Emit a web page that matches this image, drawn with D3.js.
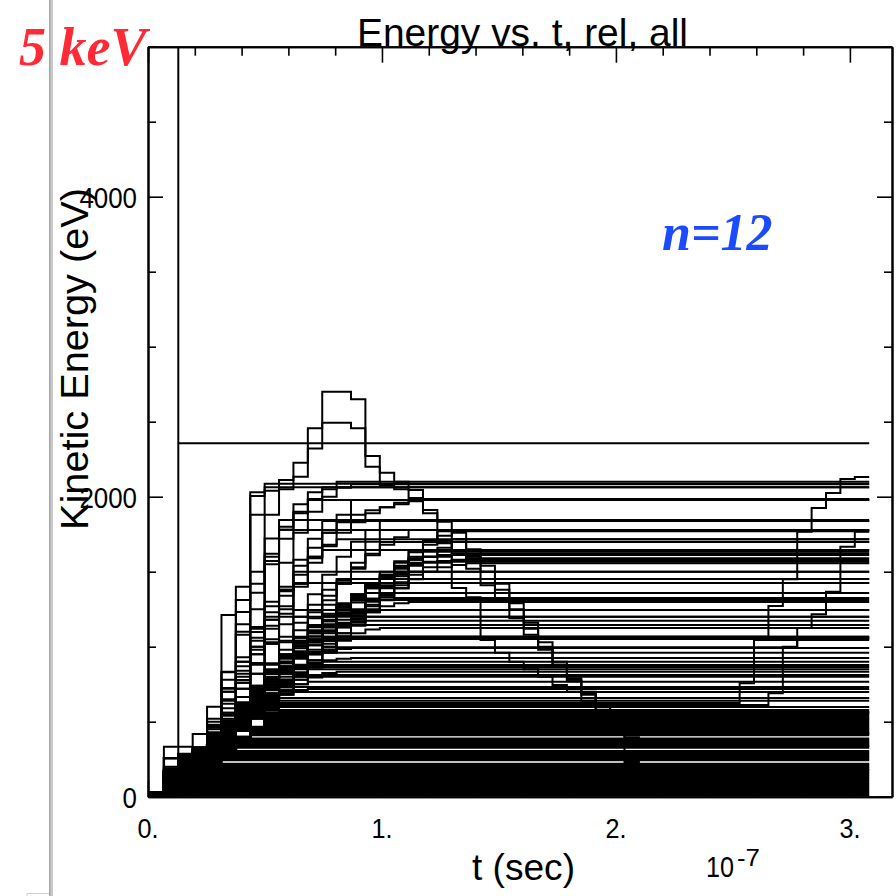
<!DOCTYPE html>
<html><head><meta charset="utf-8">
<script src="https://cdn.jsdelivr.net/npm/d3@7"></script>
<style>html,body{margin:0;padding:0;background:#fff;} svg{display:block;}</style>
</head><body>
<svg id="c" width="896" height="896"></svg>
<script>
// ---- sample-interval boundaries (units of 1e-7 s) ----
const stepTimes = [0, 0.0679, 0.1295, 0.1910, 0.2525, 0.3140, 0.3755, 0.4371, 0.4986, 0.5601,
  0.6216, 0.6832, 0.7447, 0.8062, 0.8677, 0.9292, 0.9908, 1.0523, 1.1138, 1.1753,
  1.2368, 1.2984, 1.3599, 1.4214, 1.4829, 1.5445, 1.6060, 1.6675, 1.7290, 1.7905,
  1.8521, 1.9136, 1.9751, 2.0366, 2.0982, 2.1597, 2.2212, 2.2827, 2.3442, 2.4058,
  2.4673, 2.5288, 2.5903, 2.6518, 2.7134, 2.7749, 2.8364, 2.8979, 2.9594, 3.0210, 3.0825];

// ---- energy (eV) per interval; last value = energy kept to end of run ----
const lowTraces = [
  [4],[6,14],[8,25],[10,36],[12,30,47],[5,40,58],[14,45,69],[16,52,80],[18,60,91],[20,66,102],
  [22,72,96,113],[24,80,106,124],[26,88,118,135],[28,95,125,146],[30,102,134,157],[9,110,142,168],
  [11,120,150,165,179],[13,128,160,176,190],[15,135,170,188,200],[17,142,180,196,210],[19,150,190,205,219],
  [21,160,200,216,230,244],[23,173,212,226,240,254],[25,160,222,238,250,264],[27,173,232,248,262,274],
  [29,160,242,258,272,284],[7,150,252,268,282,290,294],[9,140,262,280,292,300,304],
  [11,130,270,290,305,315,328],[13,256,280,300,316,327,338],[15,120,285,307,326,338,348],
  [17,110,250,296,334,348,358],[19,100,240,290,340,357,368],[21,96,230,285,345,365,377],
  [23,90,220,280,340,367,386],[25,85,210,275,330,360,391,411],[27,80,200,270,325,360,398,421],
  [29,75,190,265,320,355,398,431],[6,70,180,260,315,350,391,441],[8,66,170,255,310,345,385,452],
  [10,62,160,250,305,340,380,463],[12,58,150,245,300,340,380,440,474],[14,54,140,240,295,335,378,445,485],
  [16,50,130,235,290,330,376,450,496],[18,46,120,230,285,325,374,455,507],[20,42,110,225,280,320,372,458,518],
  [22,38,100,220,275,315,370,460,529],[24,34,95,215,270,310,365,462,540],[26,30,90,210,265,305,360,463,551],
  [28,28,85,205,260,300,355,465,561]
];
const midTraces = [
  [10,70,150,240,320,400,500,610,730,850,960,1070,1170,1260,1340,1410,1460,1500],
  [12,60,140,230,330,430,540,660,780,900,1010,1110,1200,1280,1350,1410,1451],
  [14,55,130,220,300,380,460,550,650,750,850,950,1040,1130,1210,1280,1340,1390,1424],
  [16,80,170,260,360,470,580,700,820,930,1040,1140,1220,1290,1330,1358],
  [18,90,180,270,350,430,520,620,720,820,920,1010,1100,1180,1250,1300,1315,1325],
  [20,100,190,280,370,470,590,710,830,940,1040,1130,1210,1270,1295,1311],
  [22,65,140,220,300,380,460,550,640,730,820,910,1000,1090,1170,1230,1270,1290,1298],
  [24,110,200,290,380,480,600,720,830,930,1020,1100,1170,1210,1230,1240,1245],
  [26,75,160,250,330,420,520,630,740,850,950,1040,1110,1160,1190,1200],
  [28,120,210,300,390,500,620,740,850,950,1030,1090,1130,1155,1165,1173],
  [9,85,170,260,340,430,540,650,760,860,950,1030,1090,1130,1145],
  [11,50,120,200,280,360,440,530,620,710,800,890,970,1040,1090,1115,1125],
  [13,95,180,270,360,460,570,680,790,890,970,1030,1060,1067],
  [15,130,220,310,400,500,610,720,820,900,960,1010,1040,1050,1058],
  [17,60,130,210,290,370,460,560,660,760,860,950,1020,1051],
  [19,105,190,280,370,470,580,690,790,870,930,965,980,985,991],
  [21,140,230,320,410,510,620,730,830,900,940,955,960],
  [23,70,150,230,310,390,470,560,650,740,820,880,910,920,925],
  [25,115,200,290,380,480,590,700,790,850,880,895,900],
  [27,80,160,240,320,400,490,580,670,760,830,870,878],
  [29,150,240,330,420,520,630,730,800,840,855,860,865],
  [7,90,170,250,330,410,500,590,680,760,820,850],
  [9,55,125,200,280,360,440,520,600,680,750,800,825,833],
  [11,125,210,300,390,490,600,700,770,800,811],
  [13,100,180,260,340,420,510,600,680,740,780,795,800],
  [15,65,140,220,300,380,460,550,640,710,750,767],
  [17,135,220,310,400,500,610,680,715,731],
  [19,110,190,270,350,430,520,610,670,700,712,718],
  [21,75,150,230,310,390,480,570,640,680,698],
  [23,145,230,320,410,500,590,640,658],
  [25,120,200,280,360,440,530,600,630,640],
  [27,85,160,240,320,400,480,550,585,598],
  [29,155,240,330,420,500,550,570,578],
  [6,95,175,255,335,415,490,540,560,567]
];
const ridgeTraces = [
  [8,60,140,230,310,390,480,580,680,780,870,960,1050,1140,1230,1310,1390,1470,1540,1600,1660,1716],
  [10,65,150,240,320,400,500,610,720,830,930,1030,1130,1220,1310,1400,1480,1560,1630,1698],
  [12,75,160,250,330,410,510,600,690,780,870,960,1050,1140,1230,1320,1400,1480,1550,1600,1645],
  [14,85,170,260,340,420,530,640,740,840,940,1040,1130,1220,1310,1390,1470,1540,1590,1633],
  [16,55,130,220,300,380,460,550,640,730,820,910,1000,1090,1180,1270,1350,1430,1500,1560,1600,1622],
  [18,95,180,270,350,430,540,650,750,850,950,1050,1140,1230,1320,1400,1470,1530,1580,1600,1611],
  [20,50,120,210,290,370,450,530,620,710,800,890,980,1070,1160,1250,1330,1410,1480,1530,1560,1580,1590],
  [22,105,190,275,355,440,555,665,770,870,960,1050,1140,1225,1310,1390,1460,1520,1550,1565,1572,1578],
  [24,115,200,280,360,450,570,680,790,890,990,1090,1180,1270,1350,1420,1480,1530,1560,1567],
  [26,45,110,200,280,360,440,520,600,690,780,870,960,1050,1140,1230,1310,1390,1450,1500,1530,1545,1556]
];
const highTraces = [
  [15,333,333,418,600,1211,1400,2029,2087],
  [10,256,285,307,471,724,1231,2004,2063],
  [18,120,240,300,360,545,840,1131,1571,1780,1889,1984,2050,2100],
  [16,100,230,290,390,485,778,1098,1722,1844],
  [14,90,200,280,360,440,665,891,1180,1380,1540,1660,1760,1830,1880,1910,1930,1950,1978],
  [12,80,190,270,350,425,611,820,1050,1250,1420,1560,1670,1760,1830,1890,1930,1960,1970,1985],
  [20,110,215,295,380,465,580,700,840,980,1110,1230,1340,1440,1530,1610,1680,1730,1778],
  [22,70,160,250,330,410,500,600,710,820,930,1040,1150,1250,1340,1420,1500,1570,1640,1710,1770]
];
const fastTraces = [
  [15,120,230,300,380,500,720,1000,1300,1560,1760,1900,2000,2060,2083],
  [13,150,260,310,420,620,900,1250,1550,1800,1950,2030,2063],
  [11,110,220,290,370,470,620,820,1020,1220,1420,1600,1760,1880,1978],
  [17,130,240,300,400,560,760,980,1200,1400,1580,1720,1838],
  [19,95,200,280,350,430,560,720,880,1040,1200,1350,1480,1600,1700,1778],
  [21,140,250,305,410,590,800,1000,1180,1340,1480,1600,1680,1716],
  [23,85,190,270,340,410,510,640,780,920,1060,1190,1310,1420,1520,1620,1698],
  [25,160,265,310,430,650,870,1060,1230,1380,1500,1590,1645],
  [27,145,255,300,400,560,760,950,1120,1270,1400,1500],
  [8,105,210,285,355,440,580,740,890,1030,1160,1280,1380,1451],
  [10,170,270,315,460,700,930,1120,1270,1370,1424],
  [12,125,235,300,390,540,720,880,1020,1150,1245],
  [14,180,275,320,480,720,900,1040,1140,1200],
  [16,90,195,275,345,420,540,680,820,950,1060,1145],
  [18,165,268,312,450,640,820,950,1030,1067],
  [20,200,280,320,520,830,1150,1420,1620,1720,1778],
  [22,190,275,318,500,780,1080,1360,1600,1780,1900,1978],
  [24,80,180,260,330,400,480,590,720,860,1000,1140,1280,1420,1560,1700,1838]
];
// ---- change points [interval, energy eV] ----
const peakTraces = [
  [[0,12],[1,130],[2,250],[3,300],[4,420],[5,833],[6,1311],[7,1880],[8,2040],[9,2111],[10,2227],[11,2456],[12,2700],[14,2649],[15,2271],[16,2160],[17,2100],[18,2044],[19,1911],[20,1711],[21,1391],[22,1329],[23,1044],[24,960],[25,900],[26,850],[27,800],[28,744],[29,700],[30,640],[31,556],[32,420],[33,231],[34,180]],
  [[0,14],[1,140],[2,260],[3,300],[4,400],[5,700],[6,1100],[7,1500],[8,1880],[9,2050],[10,2133],[11,2322],[12,2493],[14,2456],[15,2200],[16,2078],[17,2050],[18,1991],[19,1890],[20,1833],[21,1716],[22,1600],[23,1500],[24,1380],[25,1250],[26,1120],[27,1000],[28,880],[29,770],[30,690],[31,600],[32,500],[33,396],[34,340]],
  [[0,16],[1,80],[2,170],[3,250],[4,330],[5,410],[6,500],[7,590],[8,680],[9,770],[10,860],[11,950],[12,1040],[13,1130],[14,1220],[15,1310],[16,1400],[17,1490],[18,1580],[19,1680],[20,1740],[21,1760],[22,1650],[23,1540],[24,1420],[25,1290],[26,1160],[27,1030],[28,900],[29,780],[30,680],[31,580],[32,480],[33,420]],
  [[0,18],[1,90],[2,180],[3,260],[4,340],[5,420],[6,510],[7,600],[8,690],[9,780],[10,870],[11,960],[12,1050],[13,1140],[14,1230],[15,1320],[16,1410],[17,1500],[18,1600],[19,1700],[20,1690],[21,1620],[22,1520],[23,1410],[24,1300],[25,1190],[26,1080],[27,980],[28,880],[29,790],[30,700],[31,620],[32,560]]
];
const lateTraces = [
  [[0,10],[1,90],[2,180],[3,270],[4,360],[5,450],[6,550],[7,650],[8,750],[9,850],[10,950],[11,1030],[12,1067],[43,1271],[44,1450],[45,1767],[46,1924],[47,2024],[48,2118],[49,2131]],
  [[0,12],[1,100],[2,190],[3,280],[4,370],[5,470],[6,570],[7,670],[8,770],[9,860],[10,930],[11,980],[12,997],[45,1125],[46,1217],[47,1367],[48,1667],[49,1767]],
  [[0,14],[1,70],[2,150],[3,230],[4,310],[5,390],[6,470],[7,550],[8,600],[9,624],[41,756],[42,1044]],
  [[0,16],[1,120],[2,200],[3,280],[4,360],[5,440],[6,520],[7,580],[8,611],[43,689],[44,1000],[45,1060]]
];
const spikeTrace = [[0,0],[2,6000],[2,2356]];

// ---- axis ticks / labels ----
const xMajor = [0, 1, 2, 3];
const xMinor = [0.2, 0.4, 0.6, 0.8, 1.2, 1.4, 1.6, 1.8, 2.2, 2.4, 2.6, 2.8];
const xTickLabels = ["0.", "1.", "2.", "3."];
const yMajor = [0, 2000, 4000];
const yMinor = [500, 1000, 1500, 2500, 3000, 3500, 4500, 5000];
const yTickLabels = ["0", "2000", "4000"];

const svg = d3.select("#c");
const X0 = 148, X1 = 892, Y0 = 796.7, Y1 = 46.7;
const x = d3.scaleLinear().domain([0, 3.18]).range([X0, X1]);
const y = d3.scaleLinear().domain([0, 5000]).range([Y0, Y1]);

// window border on the left
svg.append("rect").attr("x", 49).attr("y", 0).attr("width", 4).attr("height", 896).attr("fill", "#c9c9c9");
svg.append("rect").attr("x", 49).attr("y", 0).attr("width", 1.5).attr("height", 896).attr("fill", "#a8a8a8");
svg.append("path").attr("d", "M27,896 V893.5 H49").attr("fill", "none").attr("stroke", "#cfcfcf").attr("stroke-width", 1);

svg.append("clipPath").attr("id", "plotclip").append("rect")
  .attr("x", X0).attr("y", Y1).attr("width", X1 - X0).attr("height", Y0 - Y1);

const line = d3.line().x(d => x(d[0])).y(d => y(d[1])).curve(d3.curveStepAfter);
const fromChanges = ch => {
  const pts = ch.map(([k, e]) => [stepTimes[k], e]);
  pts.push([stepTimes[stepTimes.length - 1], ch[ch.length - 1][1]]);
  return pts;
};
const fromIntervals = arr => fromChanges(arr.map((e, k) => [k, e]));

const plot = svg.append("g").attr("clip-path", "url(#plotclip)");
function drawGroup(traces, width) {
  plot.append("g").selectAll("path").data(traces).join("path")
    .attr("d", line).attr("fill", "none").attr("stroke", "#000")
    .attr("stroke-width", width).attr("stroke-linejoin", "miter");
}
drawGroup(lowTraces.map(fromIntervals), 2.4);
drawGroup(midTraces.map(fromIntervals), 2);
drawGroup(ridgeTraces.map(fromIntervals), 2);
drawGroup(highTraces.map(fromIntervals), 2);
drawGroup(fastTraces.map(fromIntervals), 2);
drawGroup(peakTraces.map(fromChanges), 2);
drawGroup(lateTraces.map(fromChanges), 2);
drawGroup([fromChanges(spikeTrace)], 2);

// axes (IDL-style, ticks inward on all four sides)
function styleAxis(g, w) {
  g.selectAll(".domain").attr("stroke", "#000").attr("stroke-width", 2);
  g.selectAll(".tick line").attr("stroke", "#000").attr("stroke-width", w);
  g.selectAll("text").remove();
}
const ax = (gen, tx, ty) => svg.append("g").attr("transform", `translate(${tx},${ty})`).call(gen);
styleAxis(ax(d3.axisBottom(x).tickValues(xMajor).tickSize(-16).tickSizeOuter(0), 0, Y0), 1.6);
styleAxis(ax(d3.axisBottom(x).tickValues(xMinor).tickSize(-9).tickSizeOuter(0), 0, Y0), 1.6);
styleAxis(ax(d3.axisTop(x).tickValues(xMajor).tickSize(-16).tickSizeOuter(0), 0, Y1), 1.6);
styleAxis(ax(d3.axisTop(x).tickValues(xMinor).tickSize(-9).tickSizeOuter(0), 0, Y1), 1.6);
styleAxis(ax(d3.axisLeft(y).tickValues(yMajor).tickSize(-15).tickSizeOuter(0), X0, 0), 1.6);
styleAxis(ax(d3.axisLeft(y).tickValues(yMinor).tickSize(-8).tickSizeOuter(0), X0, 0), 1.6);
styleAxis(ax(d3.axisRight(y).tickValues(yMajor).tickSize(-15).tickSizeOuter(0), X1, 0), 1.6);
styleAxis(ax(d3.axisRight(y).tickValues(yMinor).tickSize(-8).tickSizeOuter(0), X1, 0), 1.6);

const sans = "'Liberation Sans', Arial, Helvetica, sans-serif";
const serif = "'Liberation Serif', 'Times New Roman', serif";

// tick labels
svg.append("g").selectAll("text").data(yMajor).join("text")
  .attr("x", 137).attr("y", d => y(d) + 11).attr("text-anchor", "end")
  .attr("font-family", sans).attr("font-size", 29)
  .attr("textLength", (d, i) => yTickLabels[i].length * 14.4).attr("lengthAdjust", "spacingAndGlyphs")
  .text((d, i) => yTickLabels[i]);
svg.append("g").selectAll("text").data(xMajor).join("text")
  .attr("x", d => x(d)).attr("y", 838).attr("text-anchor", "middle")
  .attr("font-family", sans).attr("font-size", 28)
  .attr("textLength", 21).attr("lengthAdjust", "spacingAndGlyphs")
  .text((d, i) => xTickLabels[i]);

// titles
svg.append("text").attr("x", 357).attr("y", 45.5).attr("font-family", sans).attr("font-size", 39)
  .attr("textLength", 331).attr("lengthAdjust", "spacingAndGlyphs").text("Energy vs. t, rel, all");
svg.append("text").attr("transform", "translate(88,359) rotate(-90)").attr("text-anchor", "middle")
  .attr("font-family", sans).attr("font-size", 39)
  .attr("textLength", 342).attr("lengthAdjust", "spacingAndGlyphs").text("Kinetic Energy (eV)");
svg.append("text").attr("x", 472).attr("y", 880).attr("font-family", sans).attr("font-size", 37)
  .attr("textLength", 103).attr("lengthAdjust", "spacingAndGlyphs").text("t (sec)");
svg.append("text").attr("x", 706).attr("y", 877).attr("font-family", sans).attr("font-size", 30)
  .attr("textLength", 28).attr("lengthAdjust", "spacingAndGlyphs").text("10");
svg.append("text").attr("x", 737).attr("y", 866).attr("font-family", sans).attr("font-size", 24)
  .attr("textLength", 23).attr("lengthAdjust", "spacingAndGlyphs").text("-7");

// annotations
svg.append("text").attr("x", 19).attr("y", 65).attr("font-family", serif).attr("font-weight", "bold")
  .attr("font-style", "italic").attr("font-size", 54).attr("fill", "#ff2a35").text("5 keV");
svg.append("text").attr("x", 662).attr("y", 250).attr("font-family", serif).attr("font-weight", "bold")
  .attr("font-style", "italic").attr("font-size", 52).attr("fill", "#1a4bff").text("n=12");
</script>
</body></html>
